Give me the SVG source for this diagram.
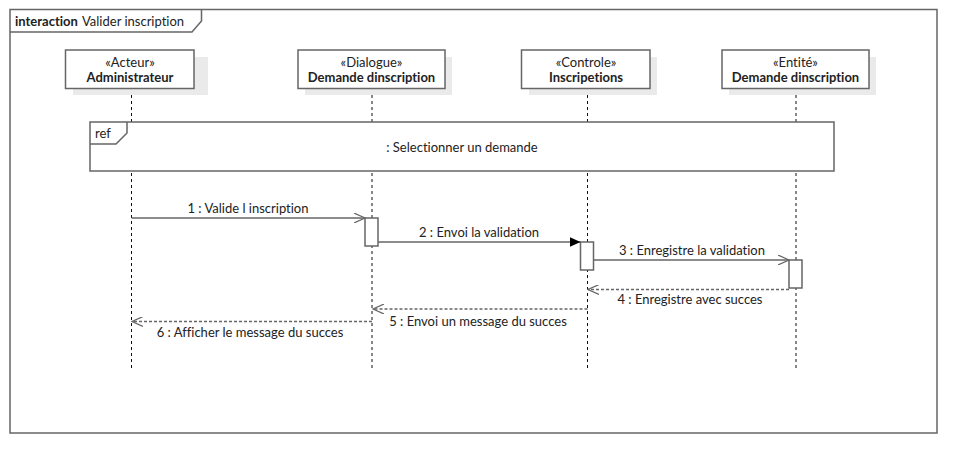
<svg xmlns="http://www.w3.org/2000/svg" width="978" height="474" viewBox="0 0 978 474">
<defs>
<style>
text{font-family:Lato,"Liberation Sans",sans-serif;font-size:13px;fill:#222;font-variant-ligatures:none;font-feature-settings:"liga" 0}
.b{font-weight:bold}
.frame{fill:none;stroke:#666;stroke-width:1.5}
.box{fill:#fff;stroke:#666;stroke-width:1.5}
.shadow{fill:#eaeaea}
.life{stroke:#111;stroke-width:1;stroke-dasharray:3,3;fill:none}
.msg{stroke:#666;stroke-width:1.5;fill:none}
.ret{stroke:#666;stroke-width:1.5;fill:none;stroke-dasharray:3,2}
.act{fill:#fff;stroke:#666;stroke-width:1.5}
</style>
<marker id="open" markerWidth="12" markerHeight="10" refX="11" refY="5" orient="auto" markerUnits="userSpaceOnUse">
<path d="M0,0 L11,5 L0,10" fill="none" stroke="#666" stroke-width="1.2"/>
</marker>
<marker id="filled" markerWidth="12" markerHeight="10" refX="11" refY="5" orient="auto" markerUnits="userSpaceOnUse">
<path d="M0,0 L11,5 L0,10 Z" fill="#000"/>
</marker>
</defs>
<rect width="978" height="474" fill="#fff"/>
<g id="frame">
<rect class="frame" x="10" y="9.5" width="927" height="423.5"/>
<path class="frame" d="M10,32 H192 L201.5,21 V9.5"/>
<text x="15" y="25.5"><tspan class="b">interaction</tspan><tspan x="82">Valider inscription</tspan></text>
</g>
<g id="lifelines">
<line class="life" x1="131.5" y1="89" x2="131.5" y2="370"/>
<line class="life" x1="372" y1="89" x2="372" y2="370"/>
<line class="life" x1="587.5" y1="89" x2="587.5" y2="370"/>
<line class="life" x1="796" y1="89" x2="796" y2="370"/>
</g>
<g id="admin">
<rect class="shadow" x="73" y="57" width="135" height="38"/>
<rect class="box" x="65.5" y="50" width="128.5" height="38.5"/>
<text x="130" y="67" text-anchor="middle">«Acteur»</text>
<text class="b" x="130" y="81.5" text-anchor="middle">Administrateur</text>
</g>
<g id="dialogue">
<rect class="shadow" x="305" y="57" width="147" height="38"/>
<rect class="box" x="298" y="50" width="147" height="38.5"/>
<text x="371.5" y="67" text-anchor="middle">«Dialogue»</text>
<text class="b" x="371.5" y="81.5" text-anchor="middle">Demande dinscription</text>
</g>
<g id="controle">
<rect class="shadow" x="529" y="57" width="128" height="38"/>
<rect class="box" x="521.5" y="50" width="128.5" height="38.5"/>
<text x="586" y="67" text-anchor="middle">«Controle»</text>
<text class="b" x="586" y="81.5" text-anchor="middle">Inscripetions</text>
</g>
<g id="entite">
<rect class="shadow" x="729" y="57" width="147" height="38"/>
<rect class="box" x="722" y="50" width="147" height="38.5"/>
<text x="795.5" y="67" text-anchor="middle">«Entité»</text>
<text class="b" x="795.5" y="81.5" text-anchor="middle">Demande dinscription</text>
</g>
<g id="ref">
<rect class="box" x="90" y="122" width="744" height="49"/>
<path class="frame" d="M90,144 H116 L127,133 V122"/>
<text x="95" y="138">ref</text>
<text x="462" y="152" text-anchor="middle">: Selectionner un demande</text>
</g>
<g id="activations">
<rect class="act" x="365" y="218" width="13" height="28"/>
<rect class="act" x="580.5" y="242" width="13" height="28"/>
<rect class="act" x="789" y="260" width="13" height="28"/>
</g>
<g id="connectors">
<line class="msg" x1="131.5" y1="218" x2="365" y2="218" marker-end="url(#open)"/>
<text x="248" y="213" text-anchor="middle">1 : Valide l inscription</text>
<line class="msg" x1="378" y1="242" x2="580.5" y2="242" marker-end="url(#filled)"/>
<text x="479" y="237" text-anchor="middle">2 : Envoi la validation</text>
<line class="msg" x1="593.5" y1="260" x2="789" y2="260" marker-end="url(#open)"/>
<text x="692" y="255" text-anchor="middle">3 : Enregistre la validation</text>
<line class="ret" x1="789" y1="289.5" x2="588" y2="289.5" marker-end="url(#open)"/>
<text x="690" y="304" text-anchor="middle">4 : Enregistre avec succes</text>
<line class="ret" x1="587.5" y1="309" x2="373" y2="309" marker-end="url(#open)"/>
<text x="478" y="326" text-anchor="middle">5 : Envoi un message du succes</text>
<line class="ret" x1="372" y1="321.5" x2="132" y2="321.5" marker-end="url(#open)"/>
<text x="250" y="337" text-anchor="middle">6 : Afficher le message du succes</text>
</g>
</svg>
